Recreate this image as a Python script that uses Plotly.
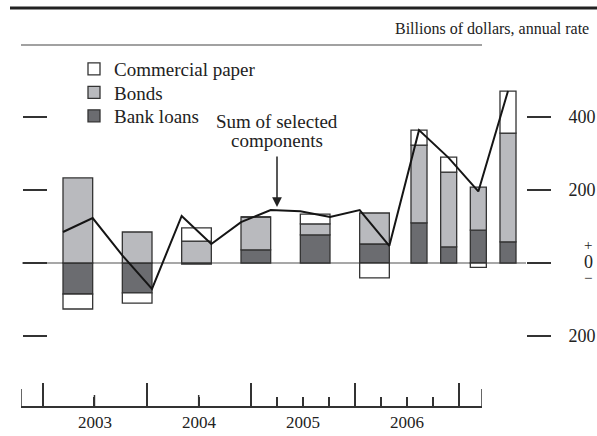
import plotly.graph_objects as go

# ---------------- data ----------------
bar_periods = ["2003:H1", "2003:H2", "2004:H1", "2004:H2", "2005:H1", "2005:H2",
               "2006:Q1", "2006:Q2", "2006:Q3", "2006:Q4"]
bank_loans = [-85, -82, -3, 36, 77, 52, 110, 44, 90, 58]
bonds = [233, 85, 60, 90, 30, 85, 213, 205, 118, 298]
commercial_paper = [-41, -28, 36, 0, 27, -41, 41, 41, -12, 115]

quarters = ["2003:Q1", "2003:Q2", "2003:Q3", "2003:Q4",
            "2004:Q1", "2004:Q2", "2004:Q3", "2004:Q4",
            "2005:Q1", "2005:Q2", "2005:Q3", "2005:Q4",
            "2006:Q1", "2006:Q2", "2006:Q3", "2006:Q4"]
sum_selected = [85, 123, 21, -71, 129, 52, 112, 145, 142, 126, 145, 47, 364, 288, 196, 471]

ytick_vals = [-200, 0, 200, 400]
ytick_text = ["200", "", "200", "400"]

FONT = "Liberation Serif"
W, H = 597, 436


def q_index(label):
    y, p = label.split(":")
    base = (int(y) - 2003) * 4
    if p.startswith("H"):
        return base + (int(p[1]) - 1) * 2 + 0.5
    return base + int(p[1]) - 1


def bar_width(label):
    return 1.0 if ":H" in label else 0.54


bx = [q_index(p) for p in bar_periods]
bw = [bar_width(p) for p in bar_periods]
qx = [q_index(q) for q in quarters]

# pixel geometry helpers (axis ranges)
q0_px, q_step = 63.0, (508.0 - 63.0) / 15
x_range = [(0 - q0_px) / q_step, (W - q0_px) / q_step]
zero_px, per_unit = 263.0, 0.365
y_range = [(zero_px - H) / per_unit, zero_px / per_unit]

OUT = "#333333"
fig = go.Figure()
fig.add_trace(go.Bar(x=bx, y=bank_loans, width=bw, name="Bank loans", legend="legend3",
                     marker=dict(color="#6b6c70", line=dict(color=OUT, width=1.3))))
fig.add_trace(go.Bar(x=bx, y=bonds, width=bw, name="Bonds", legend="legend2",
                     marker=dict(color="#b9babe", line=dict(color=OUT, width=1.3))))
fig.add_trace(go.Bar(x=bx, y=commercial_paper, width=bw, name="Commercial paper", legend="legend",
                     marker=dict(color="#ffffff", line=dict(color=OUT, width=1.3))))
fig.add_trace(go.Scatter(x=qx, y=sum_selected, mode="lines", showlegend=False,
                         line=dict(color="#151515", width=2)))
# helper traces so the extra axes render
fig.add_trace(go.Scatter(x=["2004-01-01"], y=[None], xaxis="x2", yaxis="y",
                         showlegend=False, hoverinfo="skip"))
fig.add_trace(go.Scatter(x=[0], y=[None], xaxis="x", yaxis="y2",
                         showlegend=False, hoverinfo="skip"))

shapes = []
# zero line
shapes.append(dict(type="line", xref="paper", yref="y", x0=22 / W, x1=526 / W, y0=0, y1=0,
                   line=dict(color="#8a8a8a", width=1.6), layer="below"))
# header lines
shapes.append(dict(type="line", xref="paper", yref="paper", x0=10 / W, x1=1, y0=1 - 8 / H, y1=1 - 8 / H,
                   line=dict(color="#222", width=3)))
shapes.append(dict(type="line", xref="paper", yref="paper", x0=21 / W, x1=482 / W, y0=1 - 45 / H, y1=1 - 45 / H,
                   line=dict(color="#444", width=1.2)))
# bottom axis extra ticks
axis_y = 1 - 407 / H
for d in ["2003-07-01", "2004-07-01"]:
    shapes.append(dict(type="line", xref="x2", yref="paper", x0=d, x1=d, y0=axis_y, y1=axis_y + 12 / H,
                       line=dict(color="#333", width=1.5)))
for d in ["2002-10-16", "2007-03-23"]:
    shapes.append(dict(type="line", xref="x2", yref="paper", x0=d, x1=d, y0=axis_y, y1=axis_y + 18 / H,
                       line=dict(color="#333", width=1.5)))

annotations = [
    dict(text="Billions of dollars, annual rate", xref="paper", yref="paper", x=591 / W, y=1 - 28 / H,
         xanchor="right", yanchor="middle", showarrow=False, font=dict(family=FONT, size=16, color="#222")),
    dict(text="Sum of selected", xref="paper", yref="paper", x=277 / W, y=1 - 121 / H,
         xanchor="center", yanchor="middle", showarrow=False, font=dict(family=FONT, size=19, color="#222")),
    dict(text="components", xref="paper", yref="paper", x=277 / W, y=1 - 140 / H,
         xanchor="center", yanchor="middle", showarrow=False, font=dict(family=FONT, size=19, color="#222")),
    dict(text="", x=(277 - q0_px) / q_step, y=(zero_px - 207) / per_unit, xref="x", yref="y",
         showarrow=True, ax=0, ay=-52, arrowhead=2, arrowsize=1.3, arrowwidth=1.5, arrowcolor="#222"),
    dict(text="+", xref="paper", yref="y", x=588 / W, y=(zero_px - 245) / per_unit, showarrow=False,
         xanchor="center", yanchor="middle", font=dict(family=FONT, size=15, color="#222")),
    dict(text="0", xref="paper", yref="y", x=588 / W, y=(zero_px - 262) / per_unit, showarrow=False,
         xanchor="center", yanchor="middle", font=dict(family=FONT, size=18, color="#222")),
    dict(text="\u2212", xref="paper", yref="y", x=588 / W, y=(zero_px - 278) / per_unit, showarrow=False,
         xanchor="center", yanchor="middle", font=dict(family=FONT, size=15, color="#222")),
]

leg_common = dict(x=74 / W, xanchor="left", yanchor="top", bgcolor="rgba(0,0,0,0)",
                  font=dict(family=FONT, size=19, color="#222"),
                  itemclick=False, itemdoubleclick=False)

fig.update_layout(
    width=W, height=H,
    margin=dict(l=0, r=0, t=0, b=0),
    paper_bgcolor="white", plot_bgcolor="rgba(0,0,0,0)",
    barmode="relative",
    showlegend=True,
    legend=dict(y=1 - 50 / H, **leg_common),
    legend2=dict(y=1 - 73.5 / H, **leg_common),
    legend3=dict(y=1 - 97 / H, **leg_common),
    xaxis=dict(range=x_range, visible=False, domain=[0, 1]),
    yaxis=dict(range=y_range, anchor="free", position=526 / W, side="right",
               showgrid=False, zeroline=False, showline=False,
               ticks="outside", ticklen=24, tickwidth=1.5, tickcolor="#333",
               tickmode="array", tickvals=ytick_vals, ticktext=ytick_text,
               ticklabelstandoff=14,
               tickfont=dict(family=FONT, size=18, color="#222")),
    yaxis2=dict(range=y_range, overlaying="y", anchor="free", position=47 / W, side="left",
                showgrid=False, zeroline=False, showline=False,
                ticks="outside", ticklen=24, tickwidth=1.5, tickcolor="#333",
                tickmode="array", tickvals=ytick_vals, showticklabels=False),
    xaxis2=dict(type="date", range=["2002-10-16", "2007-03-23"], domain=[21 / W, 482 / W],
                anchor="free", position=axis_y,
                showgrid=False, zeroline=False, showline=True, linecolor="#333", linewidth=1.5,
                ticks="inside", ticklen=23, tickwidth=1.5, tickcolor="#333",
                tick0="2003-01-01", dtick="M12", ticklabelmode="period", tickformat="%Y",
                tickfont=dict(family=FONT, size=17, color="#222"),
                minor=dict(ticks="inside", ticklen=9, tickwidth=1.5, tickcolor="#333",
                           tickmode="array",
                           tickvals=["2003-07-01", "2004-07-01", "2005-04-01", "2005-07-01",
                                     "2005-10-01", "2006-04-01", "2006-07-01", "2006-10-01"])),
    shapes=shapes,
    annotations=annotations,
)

fig.write_html("out.html", config={"displayModeBar": False},
               post_script="document.body.style.margin='0';document.body.style.overflow='hidden';")
